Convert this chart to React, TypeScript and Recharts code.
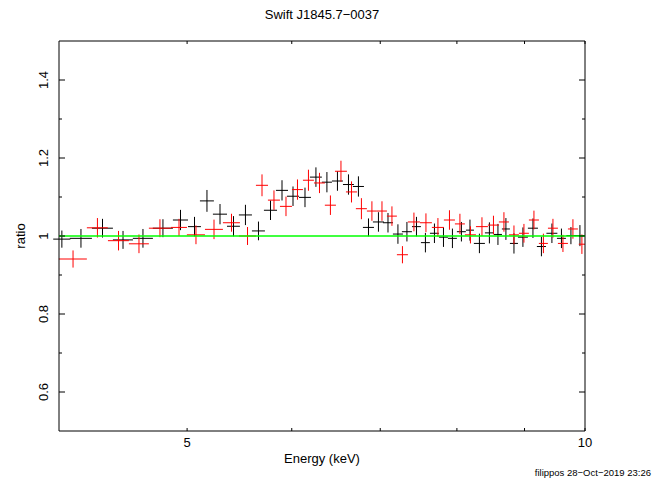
import React from 'react';
import { ScatterChart, Scatter, XAxis, YAxis, ErrorBar } from 'recharts';

// ---- data ----
const blackEnergy = [4.02, 4.156, 4.315, 4.472, 4.63, 4.794, 4.943, 5.065, 5.176, 5.295, 5.421, 5.535, 5.662, 5.782, 5.899, 6.013, 6.14, 6.258, 6.379, 6.497, 6.623, 6.739, 6.858, 6.978, 7.095, 7.219, 7.333, 7.456, 7.573, 7.693, 7.815, 7.938, 8.063, 8.184, 8.32, 8.466, 8.593, 8.713, 8.836, 8.975, 9.133, 9.269, 9.44, 9.598, 9.758, 9.912];
const blackEnergyErr = [0.06, 0.08, 0.079, 0.078, 0.081, 0.084, 0.065, 0.057, 0.063, 0.065, 0.061, 0.063, 0.064, 0.066, 0.062, 0.063, 0.064, 0.065, 0.056, 0.062, 0.063, 0.065, 0.066, 0.067, 0.062, 0.063, 0.064, 0.058, 0.059, 0.06, 0.061, 0.062, 0.063, 0.057, 0.08, 0.066, 0.06, 0.061, 0.062, 0.078, 0.08, 0.073, 0.09, 0.075, 0.077, 0.086];
const blackRatio = [0.992, 0.994, 1.02, 0.99, 0.994, 1.02, 1.041, 1.024, 1.09, 1.056, 1.025, 1.054, 1.013, 1.066, 1.117, 1.102, 1.099, 1.151, 1.138, 1.141, 1.132, 1.127, 1.022, 1.036, 1.034, 1.005, 1.011, 1.024, 0.983, 1.007, 0.997, 0.994, 1.011, 1.015, 0.981, 1.008, 1.004, 1.018, 0.981, 0.997, 1.02, 0.973, 1.007, 0.994, 1.001, 1.001];
const blackRatioErr = [0.022, 0.024, 0.024, 0.023, 0.024, 0.023, 0.026, 0.025, 0.028, 0.026, 0.026, 0.026, 0.024, 0.025, 0.026, 0.025, 0.025, 0.025, 0.026, 0.025, 0.026, 0.026, 0.023, 0.025, 0.025, 0.025, 0.025, 0.025, 0.025, 0.025, 0.025, 0.025, 0.025, 0.027, 0.025, 0.027, 0.027, 0.028, 0.026, 0.025, 0.025, 0.025, 0.025, 0.025, 0.022, 0.027];

const redEnergy = [4.099, 4.277, 4.437, 4.598, 4.769, 4.93, 5.078, 5.24, 5.402, 5.555, 5.697, 5.817, 5.94, 6.06, 6.177, 6.297, 6.418, 6.537, 6.658, 6.774, 6.899, 7.021, 7.144, 7.276, 7.423, 7.58, 7.74, 7.897, 8.042, 8.191, 8.357, 8.526, 8.683, 8.836, 8.991, 9.149, 9.301, 9.457, 9.623, 9.792, 9.946];
const redEnergyErr = [0.1, 0.078, 0.081, 0.08, 0.091, 0.069, 0.08, 0.082, 0.08, 0.082, 0.06, 0.061, 0.062, 0.058, 0.059, 0.06, 0.062, 0.068, 0.064, 0.065, 0.06, 0.061, 0.062, 0.07, 0.078, 0.079, 0.081, 0.076, 0.07, 0.079, 0.087, 0.082, 0.076, 0.077, 0.078, 0.08, 0.073, 0.082, 0.084, 0.085, 0.054];
const redRatio = [0.941, 1.021, 0.988, 0.98, 1.02, 1.022, 1.003, 1.017, 1.034, 1.0, 1.13, 1.092, 1.076, 1.119, 1.143, 1.136, 1.079, 1.166, 1.113, 1.07, 1.064, 1.064, 1.051, 0.952, 1.036, 1.034, 1.022, 1.041, 1.031, 1.003, 1.024, 1.028, 1.036, 1.003, 1.007, 1.041, 0.981, 1.02, 0.981, 1.018, 0.979];
const redRatioErr = [0.022, 0.025, 0.025, 0.024, 0.023, 0.022, 0.024, 0.025, 0.023, 0.023, 0.028, 0.025, 0.025, 0.026, 0.027, 0.026, 0.025, 0.027, 0.027, 0.027, 0.025, 0.025, 0.025, 0.022, 0.024, 0.024, 0.024, 0.025, 0.026, 0.022, 0.024, 0.024, 0.025, 0.024, 0.024, 0.024, 0.025, 0.024, 0.022, 0.025, 0.025];

const modelEnergy = [4, 10];
const modelRatio = [1, 1];

const xDomain = [4, 10];
const xTicks = [5, 6, 7, 8, 9, 10];
const xTickLabels = ['5', '', '', '', '', '10'];
const yDomain = [0.5, 1.5];
const yTicks = [0.6, 0.7, 0.8, 0.9, 1, 1.1, 1.2, 1.3, 1.4];
const yTickLabels = ['0.6', '', '0.8', '', '1', '', '1.2', '', '1.4'];

const title = 'Swift J1845.7\u22120037';
const xLabel = 'Energy (keV)';
const yLabel = 'ratio';
const stamp = 'filippos 28\u2212Oct\u22122019 23:26';

// ---- build ----
const build = (e: number[], ex: number[], r: number[], rx: number[]) =>
  e.map((v, i) => ({ e: v, ex: ex[i], r: r[i], rx: rx[i] }));
const blackData = build(blackEnergy, blackEnergyErr, blackRatio, blackRatioErr);
const redData = build(redEnergy, redEnergyErr, redRatio, redRatioErr);
const modelData = modelEnergy.map((v, i) => ({ e: v, r: modelRatio[i] }));

const FONT = '"Liberation Sans", Arial, Helvetica, sans-serif';
const W = 666;
const H = 479;

const BottomTick = (p: any) => {
  const { x, y, payload } = p;
  const i = xTicks.indexOf(payload.value);
  const lab = xTickLabels[i] || '';
  return (
    <g>
      <line x1={x} x2={x} y1={y} y2={y - 3} stroke="#000" strokeWidth={1} />
      {lab && (
        <text x={x} y={y + 16} textAnchor="middle" fontSize={13} fontFamily={FONT} fill="#000">
          {lab}
        </text>
      )}
    </g>
  );
};
const TopTick = (p: any) => {
  const { x, y } = p;
  return <line x1={x} x2={x} y1={y} y2={y + 3} stroke="#000" strokeWidth={1} />;
};
const LeftTick = (p: any) => {
  const { x, y, payload } = p;
  const i = yTicks.indexOf(payload.value);
  const lab = yTickLabels[i] || '';
  const len = lab ? 6 : 3;
  const tx = x - 11.5;
  return (
    <g>
      <line x1={x} x2={x + len} y1={y} y2={y} stroke="#000" strokeWidth={1} />
      {lab && (
        <text x={tx} y={y} transform={`rotate(-90, ${tx}, ${y})`} textAnchor="middle" fontSize={13} fontFamily={FONT} fill="#000">
          {lab}
        </text>
      )}
    </g>
  );
};
const RightTick = (p: any) => {
  const { x, y, payload } = p;
  const i = yTicks.indexOf(payload.value);
  const len = yTickLabels[i] ? 6 : 3;
  return <line x1={x} x2={x - len} y1={y} y2={y} stroke="#000" strokeWidth={1} />;
};

const NoShape = () => <g />;

export default function App() {
  return (
    <div style={{ position: 'absolute', left: 0, top: 0, width: W, height: H, background: '#fff' }}>
      <ScatterChart width={W} height={H} margin={{ top: 40, right: 80, bottom: 0, left: 0 }}>
        <XAxis
          xAxisId="b"
          dataKey="e"
          type="number"
          scale="log"
          domain={xDomain}
          allowDataOverflow
          ticks={xTicks}
          height={48}
          tickSize={0}
          tickMargin={0}
          tickLine={false}
          tick={BottomTick}
          axisLine={{ stroke: '#000', strokeWidth: 1 }}
          interval={0}
        />
        <XAxis
          xAxisId="t"
          orientation="top"
          dataKey="e"
          type="number"
          scale="log"
          domain={xDomain}
          allowDataOverflow
          ticks={xTicks}
          height={1}
          tickSize={0}
          tickMargin={0}
          tickLine={false}
          tick={TopTick}
          axisLine={{ stroke: '#000', strokeWidth: 1 }}
          interval={0}
        />
        <YAxis
          yAxisId="l"
          dataKey="r"
          type="number"
          domain={yDomain}
          allowDataOverflow
          ticks={yTicks}
          width={59}
          tickSize={0}
          tickMargin={0}
          tickLine={false}
          tick={LeftTick}
          axisLine={{ stroke: '#000', strokeWidth: 1 }}
          interval={0}
        />
        <YAxis
          yAxisId="r"
          orientation="right"
          dataKey="r"
          type="number"
          domain={yDomain}
          allowDataOverflow
          ticks={yTicks}
          width={1}
          tickSize={0}
          tickMargin={0}
          tickLine={false}
          tick={RightTick}
          axisLine={{ stroke: '#000', strokeWidth: 1 }}
          interval={0}
        />
        <Scatter xAxisId="b" yAxisId="l" data={blackData} dataKey="r" shape={NoShape} isAnimationActive={false} legendType="none">
          <ErrorBar dataKey="ex" direction="x" width={0} stroke="#000" strokeWidth={1} isAnimationActive={false} />
          <ErrorBar dataKey="rx" direction="y" width={0} stroke="#000" strokeWidth={1} isAnimationActive={false} />
        </Scatter>
        <Scatter xAxisId="b" yAxisId="l" data={redData} dataKey="r" shape={NoShape} isAnimationActive={false} legendType="none">
          <ErrorBar dataKey="ex" direction="x" width={0} stroke="#ff0000" strokeWidth={1} isAnimationActive={false} />
          <ErrorBar dataKey="rx" direction="y" width={0} stroke="#ff0000" strokeWidth={1} isAnimationActive={false} />
        </Scatter>
        <Scatter
          xAxisId="b"
          yAxisId="l"
          data={modelData}
          dataKey="r"
          shape={NoShape}
          line={{ stroke: '#00ff00', strokeWidth: 1.3 }}
          isAnimationActive={false}
          legendType="none"
        />
      </ScatterChart>
      <svg width={W} height={H} style={{ position: 'absolute', left: 0, top: 0, pointerEvents: 'none' }}>
        <text x={322} y={19} textAnchor="middle" fontSize={13} fontFamily={FONT} fill="#000">{title}</text>
        <text x={322} y={463} textAnchor="middle" fontSize={13} fontFamily={FONT} fill="#000">{xLabel}</text>
        <text x={25} y={236} transform="rotate(-90, 25, 236)" textAnchor="middle" fontSize={13} fontFamily={FONT} fill="#000">{yLabel}</text>
        <text x={651} y={476} textAnchor="end" fontSize={9.5} fontFamily={FONT} fill="#000">{stamp}</text>
      </svg>
    </div>
  );
}
